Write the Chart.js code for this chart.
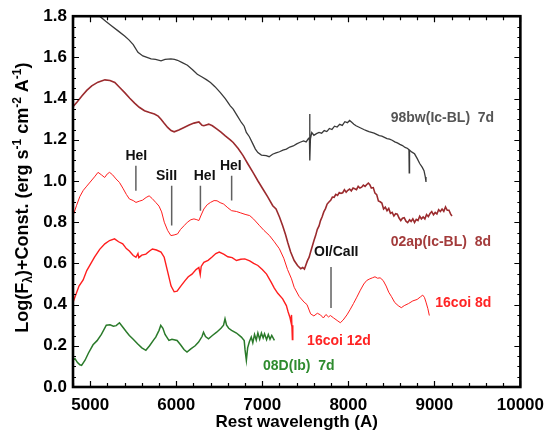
<!DOCTYPE html>
<html><head><meta charset="utf-8">
<script src="https://cdn.jsdelivr.net/npm/chart.js@4/dist/chart.umd.min.js"></script>
<style>html,body{margin:0;padding:0;background:#fff}</style>
</head><body>
<canvas id="c" width="552" height="435"></canvas>
<script>
// ---------- axis ticks ----------
const xTickValues = [5000, 6000, 7000, 8000, 9000, 10000];
const yTickValues = [0, 0.2, 0.4, 0.6, 0.8, 1.0, 1.2, 1.4, 1.6, 1.8];
const xMinorStep = 200;
const yMinorStep = 0.05;

// ---------- SN 1998bw (Ic-BL) 7d ----------
const wl98bw = [4900,5000,5110,5180,5250,5320,5400,5450,5500,5555,5612,5660,5708,5760,5823,5870,5938,5980,6015,6070,6130,6190,6245,6300,6350,6398,6450,6513,6570,6628,6662,6710,6757,6790,6815,6850,6892,6920,6949,6990,7045,7080,7120,7160,7200,7240,7280,7320,7360,7400,7440,7480,7510,7535,7548,7551,7554,7560,7575,7600,7630,7660,7690,7720,7750,7780,7810,7840,7870,7900,7930,7960,7990,8015,8040,8065,8090,8120,8150,8180,8210,8240,8270,8300,8330,8360,8390,8420,8450,8480,8510,8540,8570,8600,8630,8660,8690,8705,8708,8712,8740,8770,8800,8830,8860,8880,8895,8903];
const flux98bw = [1.90,1.85,1.80,1.775,1.752,1.73,1.704,1.685,1.662,1.625,1.607,1.600,1.593,1.590,1.583,1.590,1.593,1.590,1.586,1.575,1.562,1.540,1.518,1.505,1.492,1.478,1.458,1.429,1.400,1.365,1.349,1.316,1.284,1.266,1.236,1.215,1.179,1.155,1.138,1.126,1.123,1.118,1.130,1.136,1.142,1.150,1.155,1.165,1.170,1.180,1.188,1.195,1.190,1.205,1.210,1.325,1.100,1.205,1.235,1.222,1.230,1.236,1.232,1.245,1.240,1.255,1.250,1.266,1.262,1.275,1.270,1.288,1.283,1.294,1.285,1.276,1.268,1.262,1.256,1.250,1.245,1.240,1.236,1.232,1.226,1.220,1.218,1.212,1.206,1.203,1.198,1.190,1.185,1.178,1.172,1.163,1.158,1.150,1.040,1.150,1.140,1.132,1.110,1.085,1.066,1.050,1.020,0.995];

// ---------- SN 2002ap (Ic-BL) 8d ----------
const wl02ap = [4800,4850,4903,4960,5018,5090,5171,5230,5286,5340,5401,5460,5516,5570,5631,5690,5746,5790,5823,5860,5900,5940,5976,6030,6091,6150,6206,6263,6300,6321,6378,6420,6474,6520,6570,6628,6662,6720,6777,6830,6892,6950,7007,7060,7122,7160,7200,7237,7270,7297,7330,7371,7410,7447,7470,7490,7505,7524,7545,7565,7585,7601,7620,7640,7660,7677,7695,7715,7735,7754,7775,7795,7815,7835,7855,7875,7895,7915,7935,7955,7975,7995,8015,8035,8055,8075,8095,8115,8135,8155,8175,8195,8215,8233,8250,8268,8290,8310,8330,8350,8370,8390,8410,8430,8450,8470,8490,8510,8530,8550,8570,8590,8610,8630,8650,8670,8690,8712,8730,8750,8770,8790,8810,8830,8850,8870,8890,8910,8930,8950,8970,8990,9010,9030,9050,9070,9090,9110,9130,9150,9170,9190,9205];
const flux02ap = [1.360,1.385,1.413,1.440,1.462,1.480,1.491,1.488,1.478,1.455,1.429,1.402,1.378,1.358,1.341,1.332,1.325,1.315,1.300,1.280,1.260,1.245,1.239,1.248,1.260,1.272,1.281,1.287,1.270,1.268,1.276,1.268,1.252,1.237,1.219,1.200,1.187,1.158,1.123,1.085,1.042,1.000,0.961,0.925,0.880,0.864,0.825,0.783,0.740,0.700,0.655,0.614,0.590,0.574,0.580,0.572,0.590,0.612,0.630,0.660,0.688,0.711,0.735,0.765,0.782,0.808,0.825,0.850,0.866,0.888,0.898,0.906,0.922,0.921,0.935,0.930,0.944,0.940,0.943,0.958,0.946,0.955,0.961,0.952,0.966,0.962,0.958,0.974,0.966,0.970,0.980,0.974,0.983,0.990,0.982,0.966,0.968,0.941,0.934,0.903,0.899,0.893,0.864,0.873,0.856,0.867,0.843,0.848,0.830,0.841,0.839,0.820,0.808,0.819,0.822,0.805,0.798,0.812,0.804,0.816,0.799,0.814,0.808,0.829,0.816,0.825,0.816,0.837,0.827,0.842,0.851,0.836,0.847,0.840,0.861,0.852,0.864,0.853,0.874,0.858,0.858,0.839,0.830];

// ---------- SN 2016coi 8d ----------
const wl16coi8 = [4800,4840,4880,4920,4960,5000,5050,5091,5130,5168,5200,5225,5260,5300,5340,5380,5420,5455,5500,5532,5570,5608,5650,5685,5720,5762,5800,5830,5861,5900,5938,5975,6015,6050,6091,6130,6170,6206,6240,6263,6290,6321,6360,6398,6440,6474,6510,6551,6600,6643,6700,6750,6800,6854,6900,6969,7020,7084,7140,7199,7250,7294,7340,7371,7428,7486,7520,7562,7600,7640,7677,7710,7740,7770,7792,7830,7870,7907,7940,7984,8020,8060,8099,8140,8180,8214,8250,8280,8310,8340,8370,8405,8440,8470,8500,8540,8580,8616,8650,8700,8750,8800,8840,8865,8885,8903,8925,8942];
const flux16coi8 = [0.830,0.880,0.925,0.955,0.975,0.995,1.020,1.042,1.030,1.017,1.035,1.042,1.030,1.010,0.993,0.965,0.935,0.913,0.905,0.896,0.902,0.907,0.920,0.928,0.915,0.896,0.878,0.850,0.800,0.760,0.735,0.738,0.743,0.765,0.783,0.800,0.812,0.816,0.812,0.808,0.835,0.864,0.885,0.896,0.905,0.904,0.895,0.888,0.870,0.856,0.852,0.845,0.838,0.832,0.815,0.783,0.760,0.735,0.705,0.671,0.625,0.570,0.525,0.484,0.440,0.412,0.400,0.355,0.345,0.358,0.350,0.335,0.352,0.340,0.347,0.335,0.323,0.312,0.325,0.350,0.375,0.405,0.436,0.470,0.500,0.517,0.525,0.530,0.535,0.528,0.530,0.517,0.490,0.460,0.440,0.410,0.395,0.385,0.395,0.405,0.418,0.425,0.438,0.446,0.435,0.412,0.380,0.347];

// ---------- SN 2016coi 12d ----------
const wl16coi12 = [4800,4826,4870,4918,4960,4995,5050,5110,5170,5225,5283,5330,5378,5420,5455,5500,5532,5555,5565,5600,5647,5690,5723,5770,5823,5860,5900,5940,5976,6010,6053,6100,6140,6183,6230,6263,6279,6290,6321,6370,6413,6460,6500,6551,6600,6650,6700,6750,6797,6854,6900,6949,7000,7050,7103,7140,7180,7237,7280,7300,7320,7333,7340,7350,7355];
const flux16coi12 = [0.410,0.440,0.490,0.520,0.565,0.590,0.630,0.668,0.695,0.711,0.719,0.705,0.695,0.672,0.660,0.638,0.630,0.648,0.628,0.640,0.645,0.660,0.670,0.665,0.655,0.630,0.560,0.490,0.462,0.465,0.490,0.515,0.535,0.548,0.570,0.580,0.545,0.585,0.605,0.615,0.630,0.648,0.655,0.645,0.632,0.628,0.614,0.620,0.622,0.612,0.600,0.590,0.570,0.548,0.509,0.480,0.455,0.428,0.395,0.365,0.340,0.315,0.350,0.230,0.300];

// ---------- SN 2008D (Ib) 7d ----------
const wl08D = [4800,4823,4850,4880,4900,4940,4980,5033,5080,5130,5187,5230,5270,5302,5340,5380,5420,5455,5500,5550,5600,5647,5690,5740,5762,5800,5820,5845,5870,5915,5950,6010,6050,6090,6125,6170,6220,6260,6300,6317,6340,6375,6420,6470,6520,6550,6567,6585,6610,6643,6700,6757,6790,6800,6815,6830,6850,6872,6890,6910,6930,6949,6970,6990,7010,7026,7050,7070,7090,7110,7141];
const flux08D = [0.130,0.138,0.120,0.108,0.105,0.130,0.165,0.205,0.225,0.255,0.300,0.302,0.295,0.298,0.312,0.290,0.268,0.250,0.232,0.210,0.190,0.178,0.200,0.230,0.242,0.275,0.299,0.285,0.255,0.226,0.232,0.226,0.205,0.182,0.170,0.185,0.200,0.218,0.245,0.266,0.245,0.234,0.250,0.266,0.285,0.300,0.331,0.300,0.285,0.275,0.262,0.242,0.225,0.180,0.129,0.190,0.220,0.242,0.215,0.255,0.228,0.262,0.232,0.262,0.238,0.258,0.230,0.255,0.232,0.250,0.226];

// ---------- line identifications ----------
const lineNames = ['HeI', 'SiII', 'HeI', 'HeI', 'OI/CaII'];
const lineWl = [5531, 5947, 6281, 6644, 7799];
const lineTop = [1.074, 0.977, 0.977, 1.026, 0.582];
const lineBottom = [0.953, 0.784, 0.856, 0.905, 0.384];
const lineLabelWl = [5536, 5887, 6330, 6635, 7860];
const lineLabelVal = [1.123, 1.023, 1.023, 1.072, 0.656];

// ---------- spectrum labels ----------
const specLabels = ['98bw(Ic-BL)  7d', '02ap(Ic-BL)  8d', '16coi 8d', '16coi 12d', '08D(Ib)  7d'];
const specLabelWl = [8493, 8493, 9011, 7521, 7009];
const specLabelVal = [1.306, 0.704, 0.406, 0.223, 0.099];
const specLabelColors = ['#555555', '#a33b3b', '#ff2424', '#ff2424', '#2e8b2e'];

const FONT = '"Liberation Sans", Arial, Helvetica, sans-serif';

function pts(xs, ys) { return xs.map((x, i) => ({x: x, y: ys[i]})); }

const datasets = [
  {data: pts(wl98bw, flux98bw), borderColor: '#3a3a3a', borderWidth: 1.3},
  {data: pts(wl02ap, flux02ap), borderColor: '#9b2b2e', borderWidth: 1.6},
  {data: pts(wl16coi8, flux16coi8), borderColor: '#ff1e1e', borderWidth: 1.0},
  {data: pts(wl16coi12, flux16coi12), borderColor: '#ff1e1e', borderWidth: 1.4},
  {data: pts(wl08D, flux08D), borderColor: '#2a7a2a', borderWidth: 1.5}
];
lineWl.forEach((w, i) => {
  datasets.push({data: [{x: w, y: lineBottom[i]}, {x: w, y: lineTop[i]}], borderColor: '#606060', borderWidth: 1.5});
});

const decorPlugin = {
  id: 'decor',
  afterDraw(chart) {
    const ctx = chart.ctx, xs = chart.scales.x, ys = chart.scales.y, a = chart.chartArea;
    ctx.save();
    // ticks (inward, all four sides)
    ctx.strokeStyle = '#000';
    ctx.lineWidth = 1.2;
    ctx.beginPath();
    for (let v = 4800; v <= 10000 + 1e-6; v += xMinorStep) {
      const major = xTickValues.indexOf(v) >= 0;
      const len = major ? 6 : 4;
      const px = Math.round(xs.getPixelForValue(v)) + 0.5;
      ctx.moveTo(px, a.bottom); ctx.lineTo(px, a.bottom - len);
      ctx.moveTo(px, a.top); ctx.lineTo(px, a.top + len);
    }
    for (let k = 0; k <= Math.round(1.8 / yMinorStep); k++) {
      const v = k * yMinorStep;
      const major = (k % 4) === 0;
      const len = major ? 6 : 3;
      const py = Math.round(ys.getPixelForValue(v)) + 0.5;
      ctx.moveTo(a.left, py); ctx.lineTo(a.left + len, py);
      ctx.moveTo(a.right, py); ctx.lineTo(a.right - len, py);
    }
    ctx.stroke();
    // frame
    ctx.lineWidth = 2.6;
    ctx.strokeRect(a.left, a.top, a.right - a.left, a.bottom - a.top);

    // line id labels
    ctx.fillStyle = '#111';
    ctx.font = 'bold 14px ' + FONT;
    ctx.textAlign = 'center';
    ctx.textBaseline = 'middle';
    lineNames.forEach((t, i) => {
      ctx.fillText(t, xs.getPixelForValue(lineLabelWl[i]), ys.getPixelForValue(lineLabelVal[i]));
    });
    // spectrum labels
    ctx.textAlign = 'left';
    specLabels.forEach((t, i) => {
      ctx.fillStyle = specLabelColors[i];
      ctx.fillText(t, xs.getPixelForValue(specLabelWl[i]), ys.getPixelForValue(specLabelVal[i]));
    });

    // x title
    ctx.fillStyle = '#000';
    ctx.font = 'bold 17px ' + FONT;
    ctx.textAlign = 'center';
    ctx.textBaseline = 'alphabetic';
    ctx.fillText('Rest wavelength (A)', (a.left + a.right) / 2, 427);

    // y title (rotated, with sub/superscripts)
    const parts = [['Log(F', 0], ['\u03bb', -1], [')+Const. (erg s', 0], ['-1', 1], [' cm', 0], ['-2', 1], [' A', 0], ['-1', 1], [')', 0]];
    const big = 'bold 18px ' + FONT, small = 'bold 12px ' + FONT;
    let total = 0;
    const widths = parts.map(p => { ctx.font = p[1] === 0 ? big : small; const w = ctx.measureText(p[0]).width; total += w; return w; });
    ctx.translate(22, (a.top + a.bottom) / 2 - 4);
    ctx.rotate(-Math.PI / 2);
    ctx.textAlign = 'left';
    let x = -total / 2;
    parts.forEach((p, i) => {
      ctx.font = p[1] === 0 ? big : small;
      const y = 6 + (p[1] === 1 ? -7 : p[1] === -1 ? 4 : 0);
      ctx.fillText(p[0], x, y);
      x += widths[i];
    });
    ctx.restore();
  }
};

new Chart(document.getElementById('c').getContext('2d'), {
  type: 'line',
  data: {datasets: datasets},
  options: {
    responsive: false,
    animation: false,
    devicePixelRatio: 1,
    layout: {padding: {left: 0, top: 15, right: 27, bottom: 0}},
    plugins: {legend: {display: false}, tooltip: {enabled: false}},
    elements: {point: {radius: 0}, line: {tension: 0, fill: false}},
    scales: {
      x: {
        type: 'linear', min: 4800, max: 10000,
        grid: {display: false, drawTicks: false},
        border: {display: false},
        afterBuildTicks: s => { s.ticks = xTickValues.map(v => ({value: v})); },
        afterFit: s => { s.height = 48; },
        ticks: {font: {family: FONT, size: 17, weight: 'bold'}, color: '#000', padding: 8, maxRotation: 0, autoSkip: false, callback: v => String(v)}
      },
      y: {
        type: 'linear', min: 0, max: 1.8,
        grid: {display: false, drawTicks: false},
        border: {display: false},
        afterBuildTicks: s => { s.ticks = yTickValues.map(v => ({value: v})); },
        afterFit: s => { s.width = 73; },
        ticks: {font: {family: FONT, size: 17, weight: 'bold'}, color: '#000', padding: 6, autoSkip: false, callback: v => Number(v).toFixed(1)}
      }
    }
  },
  plugins: [decorPlugin]
});
</script>
</body></html>
